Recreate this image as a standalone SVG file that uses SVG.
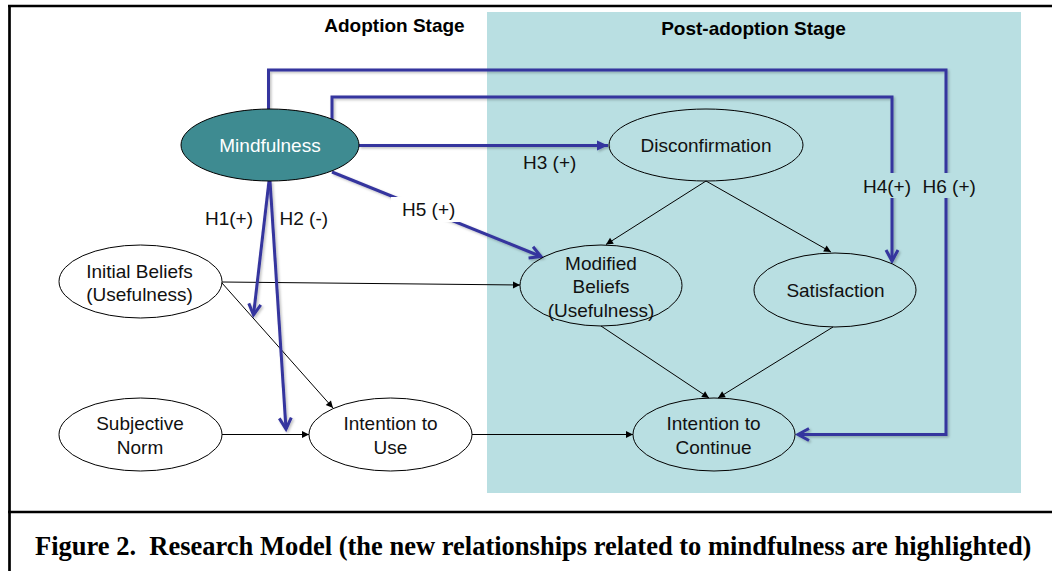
<svg xmlns="http://www.w3.org/2000/svg" width="1052" height="571" viewBox="0 0 1052 571">
  <style>
    .node { fill: #ffffff; stroke: #000000; stroke-width: 1; }
    .lbl { font-family: "Liberation Sans", Arial, sans-serif; font-size: 19px; fill: #111111; text-anchor: middle; }
    .hyp { font-family: "Liberation Sans", Arial, sans-serif; font-size: 19px; fill: #111111; }
    .stage { font-family: "Liberation Sans", Arial, sans-serif; font-size: 19px; font-weight: bold; fill: #000000; text-anchor: middle; }
    .thin { fill: none; stroke: #000000; stroke-width: 1; marker-end: url(#tri); }
    .blue { fill: none; stroke: #34349E; stroke-width: 3; stroke-linejoin: miter; }
    .open { marker-end: url(#chev); }
    .caption { font-family: "Liberation Serif", "Times New Roman", serif; font-size: 26.5px; font-weight: bold; fill: #000000; white-space: pre; }
  </style>
  <defs>
    <marker id="tri" markerUnits="userSpaceOnUse" markerWidth="10" markerHeight="10" viewBox="-8 -5 10 10" refX="0" refY="0" orient="auto">
      <path d="M-7,-3.5 L0,0 L-7,3.5 Z" fill="#000000"/>
    </marker>
    <marker id="chev" markerUnits="userSpaceOnUse" markerWidth="18" markerHeight="18" viewBox="-14 -9 18 18" refX="0" refY="0" orient="auto">
      <path d="M-11,-6 L0,0 L-11,6" fill="none" stroke="#34349E" stroke-width="3"/>
    </marker>
    <marker id="solid" markerUnits="userSpaceOnUse" markerWidth="14" markerHeight="14" viewBox="-12 -7 14 14" refX="0" refY="0" orient="auto">
      <path d="M-11,-5 L0,0 L-11,5 Z" fill="#34349E"/>
    </marker>
    <filter id="soft" x="-5%" y="-5%" width="110%" height="110%">
      <feDropShadow dx="1.5" dy="1.5" stdDeviation="1" flood-color="#000000" flood-opacity="0.25"/>
    </filter>
  </defs>

  <!-- page background and frame -->
  <rect x="0" y="0" width="1052" height="571" fill="#ffffff"/>
  <rect id="post-stage-area" x="487" y="12" width="534" height="481" fill="#B9DFE2"/>
  <g id="frame" stroke="#000000" stroke-width="2.7" fill="none">
    <line x1="8" y1="6" x2="1052" y2="6"/>
    <line x1="9.5" y1="5" x2="9.5" y2="571"/>
    <line x1="8" y1="512" x2="1052" y2="512"/>
  </g>

  <!-- stage headings -->
  <text class="stage" x="394.5" y="31.5">Adoption Stage</text>
  <text class="stage" x="753.5" y="34.5">Post-adoption Stage</text>

  <!-- connectors -->
  <g id="connectors">
    <g id="base-paths">
      <line class="thin" x1="222" y1="282" x2="520" y2="285"/>
      <line class="thin" x1="222" y1="283" x2="333" y2="408"/>
      <line class="thin" x1="222" y1="434.5" x2="309" y2="434.5"/>
      <line class="thin" x1="472" y1="434.5" x2="633" y2="434.5"/>
      <line class="thin" x1="706" y1="181" x2="606" y2="244.5"/>
      <line class="thin" x1="706" y1="181" x2="831" y2="252"/>
      <line class="thin" x1="601" y1="326" x2="709" y2="398"/>
      <line class="thin" x1="833" y1="327" x2="718" y2="398"/>
    </g>
    <g id="mindfulness-paths" filter="url(#soft)">
      <polyline class="blue open" points="268.5,109 268.5,70 946,70 946,434.5 798,434.5"/>
      <polyline class="blue open" points="332,120 332,97 892,97 892,261"/>
      <line class="blue" x1="359" y1="145.5" x2="608" y2="145.5" marker-end="url(#solid)"/>
      <line class="blue open" x1="332" y1="172" x2="541" y2="256.5"/>
      <line class="blue open" x1="269" y1="181" x2="253.5" y2="315"/>
      <line class="blue open" x1="270" y1="181" x2="286" y2="429"/>
    </g>
    <g id="path-labels">
      <text class="hyp" x="205" y="225">H1(+)</text>
      <text class="hyp" x="279.5" y="225">H2 (-)</text>
      <text class="hyp" x="523" y="168.5">H3 (+)</text>
      <rect x="391" y="197" width="70" height="25" fill="#ffffff"/>
      <text class="hyp" x="402" y="216">H5 (+)</text>
      <rect x="862" y="173" width="50" height="25" fill="#B9DFE2"/>
      <text class="hyp" x="863" y="193">H4(+)</text>
      <rect x="921" y="173" width="54" height="25" fill="#B9DFE2"/>
      <text class="hyp" x="922.5" y="193">H6 (+)</text>
    </g>
  </g>

  <!-- constructs -->
  <g id="mindfulness">
    <ellipse cx="270" cy="145" rx="89" ry="36" fill="#3E8B91" stroke="#000000" stroke-width="1"/>
    <text class="lbl" x="270" y="152" fill="#ffffff" style="fill:#ffffff">Mindfulness</text>
  </g>
  <g id="disconfirmation">
    <ellipse class="node" cx="706" cy="145" rx="97" ry="36" style="fill:none"/>
    <text class="lbl" x="706" y="152">Disconfirmation</text>
  </g>
  <g id="initial-beliefs">
    <ellipse class="node" cx="140.5" cy="281.5" rx="81.5" ry="36.5"/>
    <text class="lbl" x="139.5" y="278">Initial Beliefs</text>
    <text class="lbl" x="139.5" y="301">(Usefulness)</text>
  </g>
  <g id="modified-beliefs">
    <ellipse class="node" cx="601" cy="285.5" rx="81" ry="40.5" style="fill:none"/>
    <text class="lbl" x="601" y="269.5">Modified</text>
    <text class="lbl" x="601" y="293">Beliefs</text>
    <text class="lbl" x="601" y="316.5">(Usefulness)</text>
  </g>
  <g id="satisfaction">
    <ellipse class="node" cx="835" cy="290" rx="81" ry="37" style="fill:none"/>
    <text class="lbl" x="835.5" y="297">Satisfaction</text>
  </g>
  <g id="subjective-norm">
    <ellipse class="node" cx="140.5" cy="434.5" rx="81.5" ry="36.5"/>
    <text class="lbl" x="140" y="430">Subjective</text>
    <text class="lbl" x="140" y="453.5">Norm</text>
  </g>
  <g id="intention-to-use">
    <ellipse class="node" cx="390.5" cy="434.5" rx="81.5" ry="36.5"/>
    <text class="lbl" x="390.5" y="430">Intention to</text>
    <text class="lbl" x="390.5" y="453.5">Use</text>
  </g>
  <g id="intention-to-continue">
    <ellipse class="node" cx="714" cy="434.5" rx="81" ry="36.5" style="fill:none"/>
    <text class="lbl" x="713.5" y="430">Intention to</text>
    <text class="lbl" x="713.5" y="453.5">Continue</text>
  </g>

  <!-- caption -->
  <text class="caption" x="35" y="555">Figure 2.  Research Model (the new relationships related to mindfulness are highlighted)</text>
</svg>
